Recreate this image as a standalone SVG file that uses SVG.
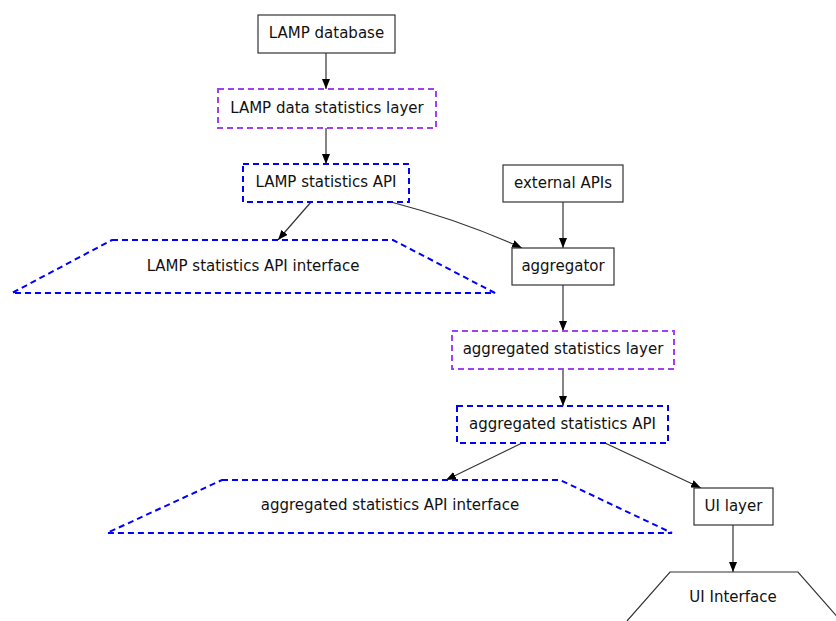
<svg xmlns="http://www.w3.org/2000/svg" width="836" height="621" viewBox="0 0 836 621">
<defs>
<marker id="ah" viewBox="0 0 10 8" refX="10" refY="4" markerWidth="10" markerHeight="8" markerUnits="userSpaceOnUse" orient="auto">
<path d="M0,0 L10,4 L0,8 Z" fill="#000"/>
</marker>
<style>
text{font-family:"DejaVu Sans","Liberation Sans",sans-serif;font-size:15px;fill:#111;text-anchor:middle;dominant-baseline:central}
.solid{fill:#fff;stroke:#333;stroke-width:1.2}
.purple{fill:#fff;stroke:#a040f0;stroke-width:2;stroke-dasharray:6,4}
.blue{fill:#fff;stroke:#0000ff;stroke-width:2;stroke-dasharray:6,4}
.edge{fill:none;stroke:#333;stroke-width:1.2;marker-end:url(#ah)}
</style>
</defs>
<rect width="836" height="621" fill="#fff"/>
<g id="connectors">
<path class="edge" d="M326,53 L326,89"/>
<path class="edge" d="M326,128 L326,164"/>
<path class="edge" d="M311,202 L278,240"/>
<path class="edge" d="M391,202 Q460,220 522,248"/>
<path class="edge" d="M563,202 L563,248"/>
<path class="edge" d="M563,285 L563,331"/>
<path class="edge" d="M563,369 L563,406"/>
<path class="edge" d="M522,443 L446,480"/>
<path class="edge" d="M605,443 L701,488"/>
<path class="edge" d="M733,525 L733,572"/>
</g>
<g id="lamp_database">
<rect class="solid" x="258" y="15" width="137" height="38"/>
<text x="326.5" y="33">LAMP database</text>
</g>
<g id="lamp_data_statistics_layer">
<rect class="purple" x="218" y="89" width="218" height="39"/>
<text x="327" y="107.5">LAMP data statistics layer</text>
</g>
<g id="lamp_statistics_api">
<rect class="blue" x="243" y="164" width="166" height="38"/>
<text x="326" y="182">LAMP statistics API</text>
</g>
<g id="lamp_statistics_api_interface">
<path class="blue" d="M112,240 L393,240 L495,293 L12,293 Z"/>
<text x="253" y="266">LAMP statistics API interface</text>
</g>
<g id="external_apis">
<rect class="solid" x="503" y="165" width="120" height="37"/>
<text x="563" y="182.5">external APIs</text>
</g>
<g id="aggregator">
<rect class="solid" x="512" y="248" width="102" height="37"/>
<text x="563" y="265.5">aggregator</text>
</g>
<g id="aggregated_statistics_layer">
<rect class="purple" x="452" y="331" width="222" height="38"/>
<text x="563" y="349">aggregated statistics layer</text>
</g>
<g id="aggregated_statistics_api">
<rect class="blue" x="457" y="406" width="211" height="37"/>
<text x="562.5" y="423.5">aggregated statistics API</text>
</g>
<g id="aggregated_statistics_api_interface">
<path class="blue" d="M222,480 L560,480 L672,533 L107,533 Z"/>
<text x="390" y="505">aggregated statistics API interface</text>
</g>
<g id="ui_layer">
<rect class="solid" x="694" y="488" width="79" height="37"/>
<text x="733.5" y="505.5">UI layer</text>
</g>
<g id="ui_interface">
<path fill="#fff" stroke="#333" stroke-width="1.2" d="M627,621 L670,572 L798,572 L841,621"/>
<text x="733" y="597">UI Interface</text>
</g>
</svg>
